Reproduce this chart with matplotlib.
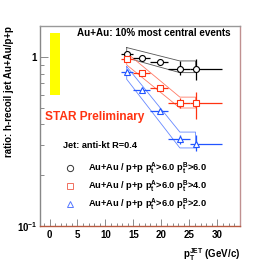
import matplotlib
matplotlib.use("Agg")
import matplotlib.pyplot as plt
from matplotlib.ticker import FixedLocator, FixedFormatter, MultipleLocator

plt.rcParams['font.family'] = ['Liberation Sans', 'DejaVu Sans']
plt.rcParams['font.weight'] = 'bold'
plt.rcParams['axes.labelweight'] = 'bold'
plt.rcParams['mathtext.fontset'] = 'custom'
plt.rcParams['mathtext.rm'] = 'Liberation Sans:bold'
plt.rcParams['mathtext.it'] = 'Liberation Sans:bold'
plt.rcParams['mathtext.bf'] = 'Liberation Sans:bold'
plt.rcParams['mathtext.default'] = 'rm'

# jet pT bin centres and bin edges (GeV/c)
jet_pt = [13.8, 16.5, 19.7, 23.3, 26.1]
xerr_lo = [1.05, 1.5, 1.7, 2.1, 0.9]
xerr_hi = [1.1, 1.5, 1.5, 1.9, 4.7]

# Au+Au / p+p ratios
ratio_b6 = [1.04, 0.99, 0.934, 0.853, 0.853]
ratio_b4 = [0.97, 0.804, 0.653, 0.532, 0.532]
ratio_b2 = [0.812, 0.638, 0.479, 0.327, 0.304]

# statistical errors (lower, upper)
yerr_b6 = ([0.02, 0.015, 0.02, 0.07, 0.12], [0.02, 0.015, 0.02, 0.09, 0.12])
yerr_b4 = ([0.02, 0.02, 0.02, 0.03, 0.10], [0.02, 0.02, 0.02, 0.04, 0.09])
yerr_b2 = ([0.02, 0.02, 0.02, 0.02, 0.025], [0.02, 0.02, 0.02, 0.02, 0.04])

# systematic bands
band_x = [13.8, 23.3, 26.1]
band_b6_hi = [1.14, 0.95, 0.95]
band_b6_lo = [0.99, 0.81, 0.81]
band_b4_hi = [1.06, 0.58, 0.58]
band_b4_lo = [0.90, 0.50, 0.50]
band_b2_hi = [0.88, 0.36, 0.36]
band_b2_lo = [0.74, 0.29, 0.29]

# normalisation uncertainty box
norm_x = [0.1, 1.9]
norm_y = [0.60, 1.40]

labels = [r"Au+Au / p+p p$_{t}^{A}$>6.0 p$_{t}^{B}$>6.0",
          r"Au+Au / p+p p$_{t}^{A}$>6.0 p$_{t}^{B}$>4.0",
          r"Au+Au / p+p p$_{t}^{A}$>6.0 p$_{t}^{B}$>2.0"]

black = "black"
red = "#ff3311"
blue = "#2255ff"

fig = plt.figure(figsize=(2.67, 2.67), dpi=100)
ax = fig.add_axes([40 / 267, 41 / 267, 200 / 267, 200 / 267])
ax.set_yscale('log')
ax.set_xlim(-1.7, 34.05)
ax.set_ylim(0.1, 1.53)

ax.fill_between(norm_x, norm_y[0], norm_y[1], color="#ffff00", lw=0)

def band(hi, lo, col):
    xs = band_x + band_x[::-1] + [band_x[0]]
    ys = hi + lo[::-1] + [hi[0]]
    ax.plot(xs, ys, color=col, lw=0.6)

band(band_b6_hi, band_b6_lo, "#555555")
band(band_b4_hi, band_b4_lo, "#ff7a66")
band(band_b2_hi, band_b2_lo, "#6688ff")

for y, ye, col, mk in [(ratio_b6, yerr_b6, black, 'o'),
                       (ratio_b4, yerr_b4, red, 's'),
                       (ratio_b2, yerr_b2, blue, '^')]:
    ax.errorbar(jet_pt, y, yerr=ye, xerr=(xerr_lo, xerr_hi), fmt=mk, color=col,
                mfc='white', mec=col, ms=4.3, mew=0.8, elinewidth=0.9, capsize=0)

ax.text(0.185, 0.965, "Au+Au: 10% most central events", transform=ax.transAxes,
        fontsize=7.1, va='center', ha='left')
ax.text(0.025, 0.545, "STAR Preliminary", transform=ax.transAxes,
        fontsize=8.6, color="#ff3311", va='center', ha='left')
ax.text(0.115, 0.40, "Jet: anti-kt R=0.4", transform=ax.transAxes,
        fontsize=6.6, va='center', ha='left')

leg_y = [0.29, 0.20, 0.11]
leg_mk = ['o', 's', '^']
leg_col = ["#333333", "#f07060", "#5577ff"]
for yy, mk, col, lab in zip(leg_y, leg_mk, leg_col, labels):
    ax.plot([0.148], [yy], mk, transform=ax.transAxes, mfc='white', mec=col,
            ms=4.5, mew=0.7)
    ax.text(0.24, yy, lab, transform=ax.transAxes, fontsize=6.7,
            va='center', ha='left')

ax.xaxis.set_major_locator(MultipleLocator(5))
ax.xaxis.set_minor_locator(MultipleLocator(1))
ax.yaxis.set_major_locator(FixedLocator([0.1, 1]))
ax.yaxis.set_major_formatter(FixedFormatter([r"10$^{-1}$", "1"]))
ax.yaxis.set_minor_locator(FixedLocator([0.2, 0.3, 0.4, 0.5, 0.6, 0.7, 0.8, 0.9]))
ax.yaxis.set_minor_formatter(FixedFormatter([]))
ax.tick_params(axis='both', which='both', direction='in', top=False, right=False,
               labelsize=7, color="#777777", width=0.6)
ax.tick_params(axis='x', which='major', length=5, pad=3)
ax.tick_params(axis='x', which='minor', length=2.5)
ax.tick_params(axis='y', which='major', length=6, pad=2)
ax.tick_params(axis='y', which='minor', length=3)

ax.spines['left'].set_color("#888888")
ax.spines['top'].set_color("#999999")
ax.spines['bottom'].set_color("#b85a40")
ax.spines['right'].set_color("#c09090")
for s in ax.spines.values():
    s.set_linewidth(1.0)

ax.set_ylabel("ratio: h-recoil jet Au+Au/p+p", fontsize=7, loc='top')
ax.yaxis.set_label_coords(-0.13, 1.0)
ax.set_xlabel(r"p$_{T}^{JET}$ (GeV/c)", fontsize=7, loc='right', labelpad=4)

fig.savefig("out.png", dpi=100)
